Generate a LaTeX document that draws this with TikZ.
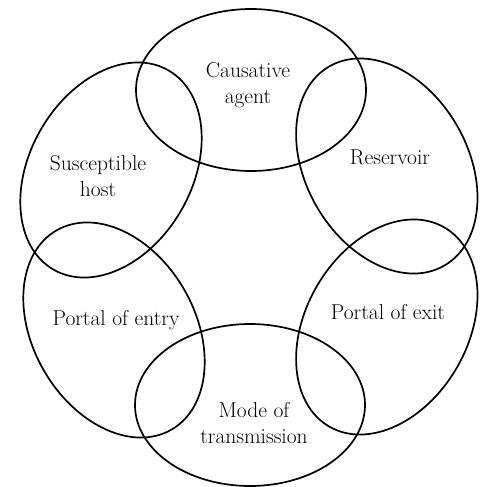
\documentclass[tikz,border=0pt]{standalone}
\usetikzlibrary{shapes.geometric}
\begin{document}
\begin{tikzpicture}[x=1pt,y=1pt,
  link/.style={draw=black, ellipse, line width=1.7pt, minimum width=230pt, minimum height=162pt, inner sep=0pt},
  lbl/.style={font=\fontsize{21.5}{26}\selectfont, align=center, inner sep=0pt}]
\useasboundingbox[fill=white] (0,0) rectangle (481,-487);
\node[link, rotate=0]   (agent) at (251,-90) {};
\node[link, rotate=-60] (res)   at (386.8,-166) {};
\node[link, rotate=60]  (exit)  at (386.8,-327) {};
\node[link, rotate=0]   (mode)  at (250,-405) {};
\node[link, rotate=-60] (entry) at (114,-330) {};
\node[link, rotate=60]  (host)  at (111,-170) {};
\node[lbl] (tagent) at (248,-85) {Causative\\agent};
\node[lbl] (tres)   at (390,-157) {Reservoir};
\node[lbl] (texit)  at (388,-312) {Portal of exit};
\node[lbl] (tmode)  at (254,-423) {Mode of\\transmission};
\node[lbl] (tentry) at (116,-320) {Portal of entry};
\node[lbl] (thost)  at (98,-176) {Susceptible\\host};
\end{tikzpicture}
\end{document}
